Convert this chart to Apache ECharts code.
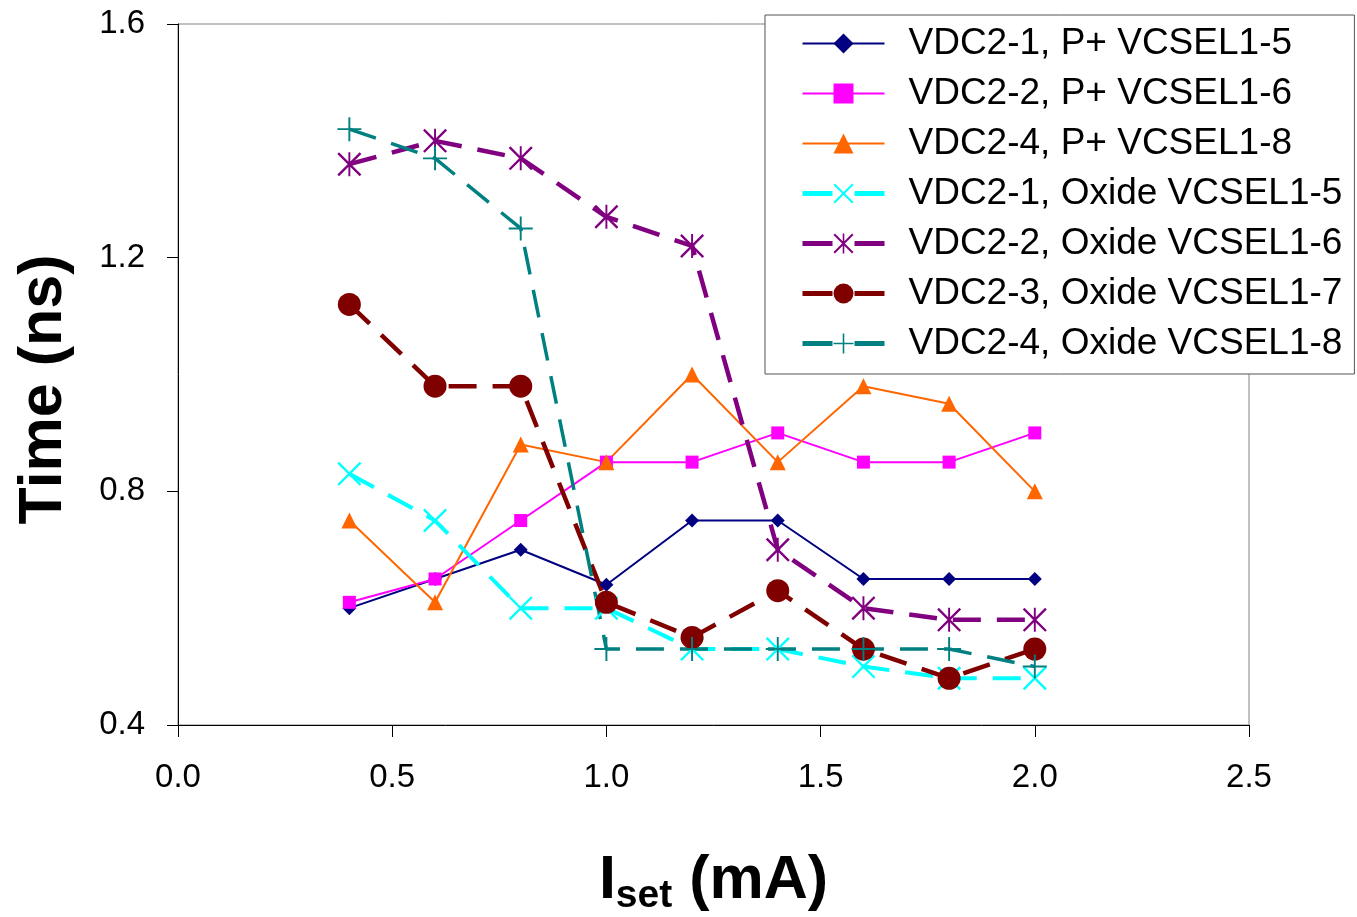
<!DOCTYPE html>
<html>
<head>
<meta charset="utf-8">
<script src="https://cdn.jsdelivr.net/npm/echarts@6/dist/echarts.min.js"></script>
<style>
html,body{margin:0;padding:0;background:#fff;}
#chart{width:1357px;height:917px;}
</style>
</head>
<body>
<div id="chart"></div>
<script>
// ---- data ----
const xValues = [0.4, 0.6, 0.8, 1.0, 1.2, 1.4, 1.6, 1.8, 2.0];
const seriesNames = [
  'VDC2-1, P+ VCSEL1-5',
  'VDC2-2, P+ VCSEL1-6',
  'VDC2-4, P+ VCSEL1-8',
  'VDC2-1, Oxide VCSEL1-5',
  'VDC2-2, Oxide VCSEL1-6',
  'VDC2-3, Oxide VCSEL1-7',
  'VDC2-4, Oxide VCSEL1-8'
];
const pVcsel15 = [0.60, 0.65, 0.70, 0.64, 0.75, 0.75, 0.65, 0.65, 0.65];
const pVcsel16 = [0.61, 0.65, 0.75, 0.85, 0.85, 0.90, 0.85, 0.85, 0.90];
const pVcsel18 = [0.75, 0.61, 0.88, 0.85, 1.00, 0.85, 0.98, 0.95, 0.80];
const oxVcsel15 = [0.83, 0.75, 0.60, 0.60, 0.53, 0.53, 0.50, 0.48, 0.48];
const oxVcsel16 = [1.36, 1.40, 1.37, 1.27, 1.22, 0.70, 0.60, 0.58, 0.58];
const oxVcsel17 = [1.12, 0.98, 0.98, 0.61, 0.55, 0.63, 0.53, 0.48, 0.53];
const oxVcsel18 = [1.42, 1.37, 1.25, 0.53, 0.53, 0.53, 0.53, 0.53, 0.50];
const yTicks = [0.4, 0.8, 1.2, 1.6];
const xTicks = [0.0, 0.5, 1.0, 1.5, 2.0, 2.5];

// ---- styles ----
const FONT = 'Liberation Sans, Arial, sans-serif';
const SYM_X = 'path://M0,7L7,0L100,93L93,100Z M93,0L100,7L7,100L0,93Z';
const SYM_AST = 'path://M0,7L7,0L100,93L93,100Z M93,0L100,7L7,100L0,93Z M46,0L54,0L54,100L46,100Z';
const SYM_PLUS = 'path://M46,0L54,0L54,100L46,100Z M0,46L100,46L100,54L0,54Z';

function pairs(ys) { return xValues.map((x, i) => [x, ys[i]]); }

function solidSeries(name, ys, color, symbol, size) {
  return {
    name, type: 'line', data: pairs(ys),
    symbol, symbolSize: size,
    lineStyle: { color, width: 2, type: 'solid' },
    itemStyle: { color, borderWidth: 0 },
    emphasis: { disabled: true }, animation: false
  };
}
function dashSeries(name, ys, color, symbol, size, width) {
  return {
    name, type: 'line', data: pairs(ys),
    symbol, symbolSize: size,
    lineStyle: { color, width: width, type: [28, 16] },
    itemStyle: { color, borderWidth: 0 },
    emphasis: { disabled: true }, animation: false
  };
}

const legendData = seriesNames.map((n, i) => i < 3
  ? { name: n, lineStyle: { width: 2, type: 'solid' } }
  : { name: n, lineStyle: { width: 5, type: [30, 22] } });

const chart = echarts.init(document.getElementById('chart'), null, { renderer: 'canvas' });
chart.setOption({
  backgroundColor: '#fff',
  animation: false,
  textStyle: { fontFamily: FONT },
  grid: {
    left: 178, top: 24, right: 108, bottom: 192,
    outerBoundsMode: 'none', containLabel: false,
    show: true, borderColor: '#808080', borderWidth: 1, backgroundColor: 'transparent'
  },
  xAxis: {
    type: 'value', min: 0, max: 2.5, interval: 0.5,
    name: '{a|I}{b|set}{a| (mA)}',
    nameLocation: 'middle', nameGap: 121,
    nameTextStyle: {
      rich: {
        a: { fontSize: 61, fontWeight: 'bold', fontFamily: FONT, color: '#000', lineHeight: 70 },
        b: { fontSize: 39, fontWeight: 'bold', fontFamily: FONT, color: '#000', lineHeight: 30, verticalAlign: 'bottom' }
      }
    },
    axisLine: { show: true, onZero: false, lineStyle: { color: '#000', width: 1 } },
    axisTick: { show: true, inside: false, length: 12, lineStyle: { color: '#000', width: 1 } },
    axisLabel: { fontSize: 33, color: '#000', fontFamily: FONT, margin: 36,
      formatter: v => Number(v).toFixed(1) },
    splitLine: { show: false }
  },
  yAxis: {
    type: 'value', min: 0.4, max: 1.6, interval: 0.4,
    name: 'Time (ns)', nameLocation: 'middle', nameGap: 103, nameRotate: 90,
    nameTextStyle: { fontSize: 61, fontWeight: 'bold', color: '#000', fontFamily: FONT, padding: [0, 30, 0, 0] },
    axisLine: { show: true, onZero: false, lineStyle: { color: '#000', width: 1 } },
    axisTick: { show: true, inside: false, length: 11, lineStyle: { color: '#000', width: 1 } },
    axisLabel: { fontSize: 33, color: '#000', fontFamily: FONT, margin: 33,
      formatter: v => Number(v).toFixed(1) },
    splitLine: { show: false }
  },
  legend: {
    show: true, orient: 'vertical', left: 765, top: 15,
    padding: [10, 12, 12, 35],
    backgroundColor: '#fff', borderColor: '#555', borderWidth: 1,
    itemWidth: 82, itemHeight: 25, itemGap: 13,
    textStyle: { fontSize: 37, color: '#000', fontFamily: FONT, lineHeight: 37, padding: [0, 0, 0, 19] },
    data: legendData
  },
  series: [
    solidSeries(seriesNames[0], pVcsel15, '#000080', 'diamond', 14),
    solidSeries(seriesNames[1], pVcsel16, '#FF00FF', 'rect', 13),
    solidSeries(seriesNames[2], pVcsel18, '#FF6600', 'triangle', 16),
    dashSeries(seriesNames[3], oxVcsel15, '#00FFFF', SYM_X, 24, 4),
    dashSeries(seriesNames[4], oxVcsel16, '#800080', SYM_AST, 24, 4.5),
    dashSeries(seriesNames[5], oxVcsel17, '#800000', 'circle', 23, 4.5),
    dashSeries(seriesNames[6], oxVcsel18, '#008080', SYM_PLUS, 24, 3.5)
  ]
});
</script>
</body>
</html>
